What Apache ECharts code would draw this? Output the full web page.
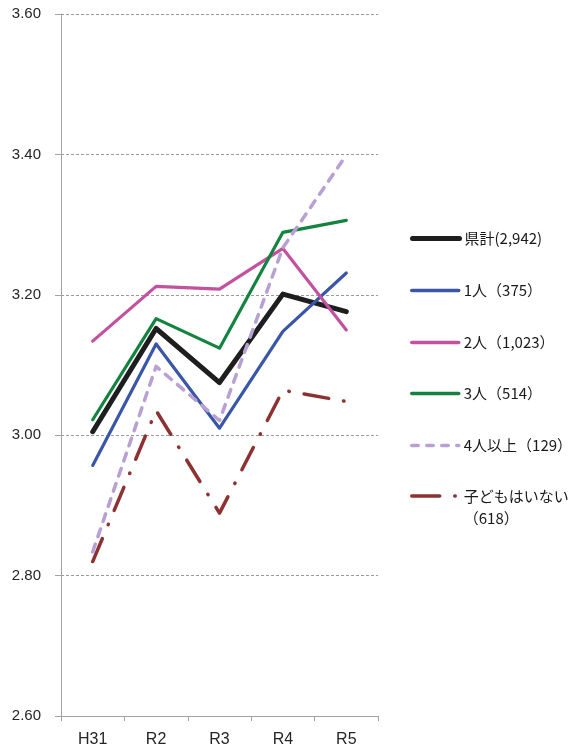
<!DOCTYPE html>
<html><head><meta charset="utf-8">
<script src="https://cdn.jsdelivr.net/npm/echarts@6/dist/echarts.min.js"></script>
<style>html,body{margin:0;padding:0;background:#fff}#c{width:584px;height:751px}</style>
</head><body><div id="c"></div>
<script>
const categories = ['H31', 'R2', 'R3', 'R4', 'R5'];
const seriesNames = ['県計(2,942)', '1人（375）', '2人（1,023）', '3人（514）', '4人以上（129）', '子どもはいない（618）'];
const totalValues = [3.005, 3.152, 3.075, 3.201, 3.176];
const oneChildValues = [2.957, 3.130, 3.010, 3.148, 3.231];
const twoChildrenValues = [3.134, 3.212, 3.208, 3.266, 3.150];
const threeChildrenValues = [3.022, 3.166, 3.124, 3.289, 3.306];
const fourPlusValues = [2.834, 3.098, 3.021, 3.267, 3.399];
const noChildrenValues = [2.820, 3.035, 2.889, 3.064, 3.048];
const yTicks = ['2.60', '2.80', '3.00', '3.20', '3.40', '3.60'];

const allValues = [totalValues, oneChildValues, twoChildrenValues, threeChildrenValues, fourPlusValues, noChildrenValues];
const colors = ['#1e1e1e', '#3a56a6', '#c2519f', '#13833f', '#b8a1d2', '#8c3232'];
const styles = [
  {width: 5, type: 'solid', cap: 'round'},
  {width: 3.2, type: 'solid', cap: 'round'},
  {width: 3.2, type: 'solid', cap: 'round'},
  {width: 3.2, type: 'solid', cap: 'round'},
  {width: 3.5, type: [8, 8], cap: 'round'},
  {width: 3.5, type: [25, 15, 0.5, 15], cap: 'round'}
];
const legendStyles = [
  {width: 5, type: 'solid', cap: 'round'},
  {width: 3.5, type: 'solid', cap: 'round'},
  {width: 3.5, type: 'solid', cap: 'round'},
  {width: 3.5, type: 'solid', cap: 'round'},
  {width: 3.5, type: [6.5, 8.5], cap: 'round'},
  {width: 3.5, type: [28, 15, 0.5, 15], cap: 'round'}
];
const legendCenters = [238, 290, 342, 393, 445, 496];
const jp = '"Noto Sans CJK JP", "Noto Sans", sans-serif';

const series = allValues.map((vals, i) => ({
  name: seriesNames[i],
  type: 'line',
  data: vals,
  symbol: 'none',
  color: colors[i],
  lineStyle: Object.assign({color: colors[i], join: 'round'}, styles[i]),
  z: 2 + i,
  animation: false
}));

const legends = seriesNames.map((n, i) => {
  const last = i === seriesNames.length - 1;
  return {
    data: [n],
    orient: 'vertical',
    left: 410,
    top: last ? legendCenters[i] - 33 : legendCenters[i] - 7,
    itemWidth: 47,
    itemHeight: 14,
    padding: 0,
    selectedMode: false,
    itemStyle: {opacity: 0},
    lineStyle: Object.assign({color: colors[i]}, legendStyles[i]),
    formatter: last ? function (name) { return ' \n子どもはいない\n（618）'; } : undefined,
    textStyle: last
      ? {fontFamily: jp, fontSize: 15, color: '#1a1a1a', lineHeight: 22}
      : {fontFamily: jp, fontSize: 15, color: '#1a1a1a', lineHeight: 14}
  };
});

const chart = echarts.init(document.getElementById('c'), null, {renderer: 'canvas'});
chart.setOption({
  backgroundColor: '#fff',
  animation: false,
  grid: {left: 61, right: 206, top: 14, bottom: 35, containLabel: false},
  legend: legends,
  xAxis: {
    type: 'category',
    data: categories,
    boundaryGap: true,
    axisLine: {lineStyle: {color: '#a3a3a3', width: 1}},
    axisTick: {show: true, length: 5, lineStyle: {color: '#a3a3a3'}},
    axisLabel: {margin: 16, fontFamily: '"Liberation Sans", Arial, sans-serif', fontSize: 16, color: '#262626'},
    splitLine: {show: false}
  },
  yAxis: {
    type: 'value',
    min: 2.6,
    max: 3.6,
    interval: 0.2,
    axisLine: {show: true, lineStyle: {color: '#a3a3a3', width: 1}},
    axisTick: {show: true, length: 6, lineStyle: {color: '#a3a3a3'}},
    axisLabel: {
      margin: 20,
      fontFamily: '"Liberation Sans", Arial, sans-serif', fontSize: 15, color: '#262626',
      formatter: function (v) { const s = v.toFixed(2); return yTicks.indexOf(s) >= 0 ? s : ''; }
    },
    splitLine: {show: true, lineStyle: {color: '#9a9a9a', type: [3, 2], width: 1}}
  },
  series: series
});
</script>
</body></html>
